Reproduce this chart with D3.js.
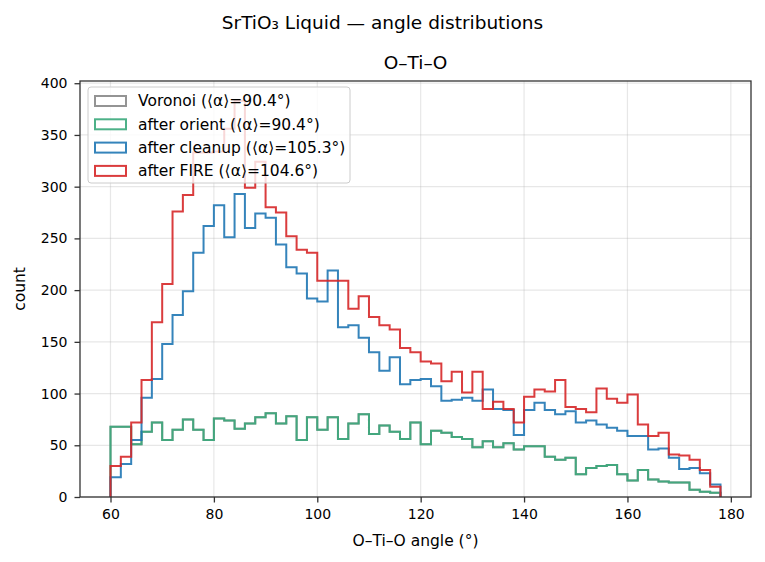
<!DOCTYPE html>
<html>
<head>
<meta charset="utf-8">
<script src="https://cdn.jsdelivr.net/npm/d3@7"></script>
<style>
  body { margin: 0; background: #fff; }
  svg text { font-family: "DejaVu Sans", sans-serif; fill: #000; }
</style>
</head>
<body>
<div id="chart"></div>
<script>
// bin edges (degrees): 60, 62, ... 178
const binEdges = d3.range(60, 179, 2);

// counts per 2-degree bin
const voronoiCounts = [68, 68, 51, 63, 72, 55, 65, 75, 65, 55, 76, 74, 66, 71, 77, 81, 71, 78, 55, 77,
  65, 77, 56, 71, 80, 61, 69, 63, 56, 72, 51, 64, 62, 58, 56, 48, 54, 48, 52, 46,
  49, 49, 39, 36, 38, 22, 28, 30, 31, 22, 16, 26, 17, 15, 14, 14, 7, 5, 4];
const orientCounts = [68, 68, 51, 63, 72, 55, 65, 75, 65, 55, 76, 74, 66, 71, 77, 81, 71, 78, 55, 77,
  65, 77, 56, 71, 80, 61, 69, 63, 56, 72, 51, 64, 62, 58, 56, 48, 54, 48, 52, 46,
  49, 49, 39, 36, 38, 22, 28, 30, 31, 22, 16, 26, 17, 15, 14, 14, 7, 5, 4];
const cleanupCounts = [19, 32, 55, 96, 114, 148, 176, 199, 236, 262, 282, 251, 293, 260, 274, 270, 244, 222, 216, 192,
  189, 219, 164, 166, 154, 140, 122, 135, 109, 113, 114, 107, 93, 94, 96, 93, 104, 85, 84, 60,
  84, 91, 84, 80, 83, 72, 74, 70, 67, 64, 59, 59, 46, 47, 38, 27, 28, 23, 12];
const fireCounts = [30, 39, 72, 113, 169, 206, 276, 292, 333, 333, 334, 356, 383, 299, 324, 280, 275, 252, 239, 236,
  209, 209, 209, 182, 194, 174, 166, 162, 144, 140, 131, 129, 112, 121, 101, 121, 85, 92, 85, 72,
  97, 104, 102, 113, 87, 85, 82, 105, 95, 91, 99, 70, 59, 62, 41, 40, 36, 26, 10];

const seriesNames = ["Voronoi (\u27e8\u03b1\u27e9=90.4\u00b0)", "after orient (\u27e8\u03b1\u27e9=90.4\u00b0)",
  "after cleanup (\u27e8\u03b1\u27e9=105.3\u00b0)", "after FIRE (\u27e8\u03b1\u27e9=104.6\u00b0)"];
const seriesColors = ["#888888", "#3aa97b", "#1f77b4", "#d62728"];
const xTicks = [60, 80, 100, 120, 140, 160, 180];
const yTicks = [0, 50, 100, 150, 200, 250, 300, 350, 400];

const W = 765, H = 562;
const margin = {top: 81, right: 14, bottom: 65, left: 80};
const width = W - margin.left - margin.right;
const height = H - margin.top - margin.bottom;

const tickFont = 14, labelFont = 15.5, titleFont = 18.5;

const svg = d3.select("#chart").append("svg")
  .attr("width", W)
  .attr("height", H);

svg.append("rect").attr("width", W).attr("height", H).attr("fill", "#fff");

// matplotlib-style 5% padding on the data range
const xMin = binEdges[0], xMax = binEdges[binEdges.length - 1];
const allCounts = [voronoiCounts, orientCounts, cleanupCounts, fireCounts];
const yMax = d3.max(allCounts, c => d3.max(c));
const x = d3.scaleLinear()
  .domain([xMin - 0.05 * (xMax - xMin), xMax + 0.05 * (xMax - xMin)])
  .range([0, width]);
const y = d3.scaleLinear()
  .domain([0, yMax * 1.05])
  .range([height, 0]);

const g = svg.append("g")
  .attr("transform", `translate(${margin.left},${margin.top})`);

// grid
g.append("g").selectAll("line").data(xTicks).enter().append("line")
  .attr("x1", d => x(d)).attr("x2", d => x(d))
  .attr("y1", 0).attr("y2", height)
  .attr("stroke", "#b0b0b0").attr("stroke-opacity", 0.3).attr("stroke-width", 1.2);
g.append("g").selectAll("line").data(yTicks).enter().append("line")
  .attr("x1", 0).attr("x2", width)
  .attr("y1", d => y(d)).attr("y2", d => y(d))
  .attr("stroke", "#b0b0b0").attr("stroke-opacity", 0.3).attr("stroke-width", 1.2);

// step histograms
function stepPath(counts) {
  const pts = [[binEdges[0], 0]];
  counts.forEach((c, i) => {
    pts.push([binEdges[i], c]);
    pts.push([binEdges[i + 1], c]);
  });
  pts.push([binEdges[binEdges.length - 1], 0]);
  return d3.line().x(d => x(d[0])).y(d => y(d[1]))(pts);
}

allCounts.forEach((counts, i) => {
  g.append("path")
    .attr("d", stepPath(counts))
    .attr("fill", "none")
    .attr("stroke", seriesColors[i])
    .attr("stroke-width", 2)
    .attr("stroke-opacity", 0.9)
    .attr("stroke-linejoin", "miter");
});

// axes
const xAxis = g.append("g")
  .attr("transform", `translate(0,${height})`)
  .call(d3.axisBottom(x).tickValues(xTicks).tickSize(5.5).tickPadding(7).tickFormat(d3.format("d")));
const yAxis = g.append("g")
  .call(d3.axisLeft(y).tickValues(yTicks).tickSize(5.5).tickPadding(7).tickFormat(d3.format("d")));
[xAxis, yAxis].forEach(a => {
  a.select(".domain").remove();
  a.selectAll(".tick line").attr("stroke", "#333").attr("stroke-width", 1.3);
  a.selectAll(".tick text").attr("font-size", tickFont).attr("fill", "#000")
    .style("font-family", "DejaVu Sans");
});

// frame
g.append("rect")
  .attr("width", width).attr("height", height)
  .attr("fill", "none").attr("stroke", "#333").attr("stroke-width", 1.3);

// labels
g.append("text")
  .attr("x", width / 2).attr("y", height + 49)
  .attr("text-anchor", "middle").attr("font-size", labelFont)
  .text("O\u2013Ti\u2013O angle (\u00b0)");
g.append("text")
  .attr("transform", `translate(${-55},${height / 2}) rotate(-90)`)
  .attr("text-anchor", "middle").attr("font-size", labelFont)
  .text("count");
g.append("text")
  .attr("x", width / 2).attr("y", -12.5)
  .attr("text-anchor", "middle").attr("font-size", titleFont)
  .text("O\u2013Ti\u2013O");
svg.append("text")
  .attr("x", W / 2).attr("y", 29)
  .attr("text-anchor", "middle").attr("font-size", titleFont)
  .text("SrTiO\u2083 Liquid \u2014 angle distributions");

// legend
const leg = g.append("g").attr("transform", "translate(8,6)");
const legW = 262, legH = 96, rowH = 23.3;
leg.append("rect")
  .attr("width", legW).attr("height", legH)
  .attr("rx", 3)
  .attr("fill", "#fff").attr("fill-opacity", 0.8)
  .attr("stroke", "#cccccc").attr("stroke-width", 1);
seriesNames.forEach((name, i) => {
  const row = leg.append("g").attr("transform", `translate(0,${14 + i * rowH})`);
  row.append("rect")
    .attr("x", 7).attr("y", -5).attr("width", 31).attr("height", 10)
    .attr("fill", "#fff")
    .attr("stroke", seriesColors[i]).attr("stroke-width", 2).attr("stroke-opacity", 0.9);
  row.append("text")
    .attr("x", 50).attr("y", 0).attr("dy", "0.35em")
    .attr("font-size", labelFont)
    .text(name);
});
</script>
</body>
</html>
